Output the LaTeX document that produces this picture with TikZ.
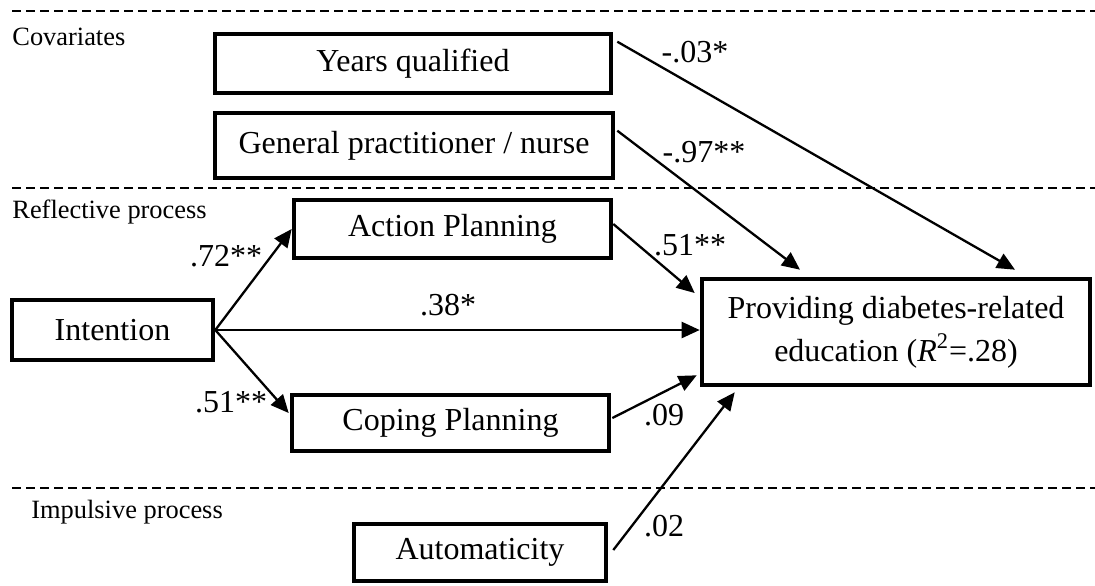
\documentclass[tikz,border=0pt]{standalone}
\usepackage{fontspec}
\setmainfont{Liberation Serif}
\usepackage{tikz}
\usetikzlibrary{arrows.meta,positioning,calc}
\tikzset{
  var/.style={draw=black,line width=2.3pt,fill=white,inner sep=0pt,align=center,
              font=\fontsize{16}{21.5}\selectfont},
  sec/.style={inner sep=0pt,anchor=west,font=\fontsize{13.2}{15}\selectfont},
  wt/.style={inner sep=0pt,font=\fontsize{16}{18}\selectfont},
  path/.style={-{Triangle[length=9pt,width=8pt]},line width=1.15pt},
  band/.style={line width=.65pt,dash pattern=on 4.5pt off 2.5pt},
}

\begin{document}
\begin{tikzpicture}[x=.5pt,y=.5pt]
  \useasboundingbox (0,0) rectangle (1095,-585);
  % --- band separators
  \draw[band] (12,-11) -- (1095,-11);
  \draw[band] (12,-188) -- (1095,-188);
  \draw[band] (12,-488) -- (1095,-488);
  \node[sec] (lcov) at (12,-37) {Covariates};
  \node[sec] (lrefl) at (12,-212) {Reflective process};
  \node[sec] (limp) at (31,-512) {Impulsive process};
  % --- variables
  \node[var,minimum width=198pt,minimum height=29.5pt] (yrs) at (413,-63.5) {Years qualified};
  \node[var,minimum width=199pt,minimum height=32.5pt] (gp) at (414,-145.5) {General practitioner / nurse};
  \node[var,minimum width=158.5pt,minimum height=29pt] (act) at (452.5,-229) {Action Planning};
  \node[var,minimum width=100.5pt,minimum height=30pt] (int) at (112.5,-330) {Intention};
  \node[var,minimum width=158.5pt,minimum height=28pt] (cop) at (450.5,-423) {Coping Planning};
  \node[var,minimum width=126pt,minimum height=28.5pt] (aut) at (480,-552.5) {Automaticity};
  \node[var,minimum width=194pt,minimum height=53pt] (out) at (896,-332)
    {Providing diabetes-related\\education (\textit{R}\textsuperscript{2}=.28)};
  % --- paths
  \draw[path] ($(yrs.north east)+(4,-10)$) -- ($(out.north)+(119,7)$);
  \draw[path] ($(gp.north east)+(2,-20)$) -- ($(out.north)+(-96,7)$);
  \draw[path] ($(act.east)+(0,5)$) -- ($(out.west)+(-5,39)$);
  \draw[path] (int.east) -- (int.east -| out.west);
  \draw[path] (int.east) -- (act.west);
  \draw[path] (int.east) -- ($(cop.west)+(-1,10)$);
  \draw[path] ($(cop.east)+(1,5)$) -- ($(out.south west)+(-3,12)$);
  \draw[path] ($(aut.east)+(5,2.5)$) -- ($(out.south west)+(35,-5)$);
  % --- coefficients
  \node[wt] (w03) at (695,-52) {-.03*};
  \node[wt] (w97) at (704,-152) {-.97**};
  \node[wt] (w51a) at (690,-245) {.51**};
  \node[wt] (w72) at (226,-256) {.72**};
  \node[wt] (w38) at (448,-305) {.38*};
  \node[wt] (w51b) at (231,-402) {.51**};
  \node[wt] (w09) at (664,-415) {.09};
  \node[wt] (w02) at (664,-526) {.02};
\end{tikzpicture}
\end{document}
